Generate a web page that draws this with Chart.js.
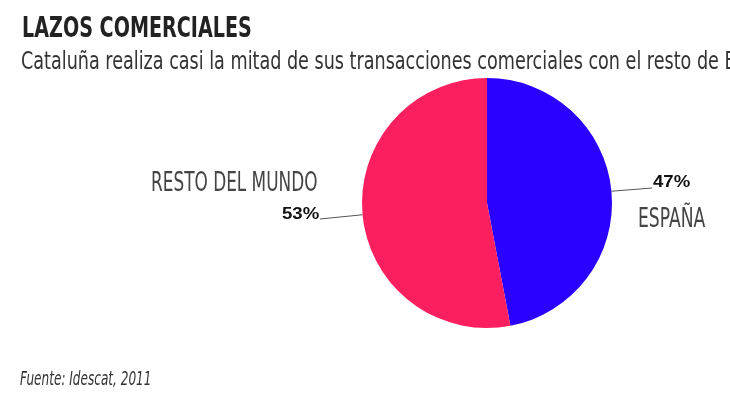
<!DOCTYPE html>
<html><head><meta charset="utf-8">
<style>
html,body{margin:0;padding:0;background:#fff;overflow:hidden}
#w{position:relative;width:730px;height:400px}
canvas{position:absolute;left:0;top:0}
</style>
<script src="https://cdn.jsdelivr.net/npm/chart.js@4"></script>
</head><body><div id="w"><canvas id="c" width="730" height="400"></canvas></div>
<script>
const categories = ["ESPAÑA", "RESTO DEL MUNDO"];
const values = [47, 53];
const valueLabels = ["47%", "53%"];
const colors = ["#2a00ff", "#fb1f60"];
const title = "LAZOS COMERCIALES";
const subtitle = "Cataluña realiza casi la mitad de sus transacciones comerciales con el resto de España";
const source = "Fuente: Idescat, 2011";

function stretched(ctx, text, x, y, font, sx, color){
  ctx.save();
  ctx.font = font; ctx.fillStyle = color; ctx.textBaseline = "alphabetic";
  ctx.translate(x, y); ctx.scale(sx, 1);
  ctx.textAlign = "left";
  ctx.fillText(text, 0, 0);
  ctx.restore();
}
const overlay = {
  id: "overlay",
  afterDraw(chart){
    const ctx = chart.ctx;
    const arc = chart.getDatasetMeta(0).data;
    stretched(ctx, title, 22, 37, "bold 29px 'DejaVu Sans'", 0.66, "#222");
    stretched(ctx, subtitle, 21, 69, "24px 'DejaVu Sans'", 0.733, "#333");
    stretched(ctx, source, 20, 385, "italic 19px 'DejaVu Sans'", 0.636, "#333");
    stretched(ctx, categories[1], 151, 191, "26px 'DejaVu Sans'", 0.65, "#444");
    stretched(ctx, categories[0], 638, 227, "26px 'DejaVu Sans'", 0.66, "#444");
    ctx.save();
    ctx.strokeStyle = "#555"; ctx.lineWidth = 1;
    const cx = arc[0].x, cy = arc[0].y, r = arc[0].outerRadius;
    const lead = (i, x2, y2) => {
      const a = (arc[i].startAngle + arc[i].endAngle) / 2;
      ctx.beginPath();
      ctx.moveTo(cx + Math.cos(a) * r, cy + Math.sin(a) * r);
      ctx.lineTo(x2, y2); ctx.stroke();
    };
    lead(0, 652, 188);
    lead(1, 320, 219);
    ctx.restore();
    stretched(ctx, valueLabels[0], 653, 187, "bold 16px 'Liberation Sans'", 1.16, "#111");
    stretched(ctx, valueLabels[1], 282, 219, "bold 16px 'Liberation Sans'", 1.16, "#111");
  }
};
new Chart(document.getElementById("c"), {
  type: "pie",
  data: { labels: categories, datasets: [{ data: values, backgroundColor: colors, borderWidth: 0 }] },
  options: {
    responsive: false, animation: false, devicePixelRatio: 1,
    layout: { padding: { left: 362, right: 118, top: 78, bottom: 72 } },
    plugins: { legend: { display: false }, tooltip: { enabled: false }, title: { display: false } }
  },
  plugins: [overlay]
});
</script></body></html>
